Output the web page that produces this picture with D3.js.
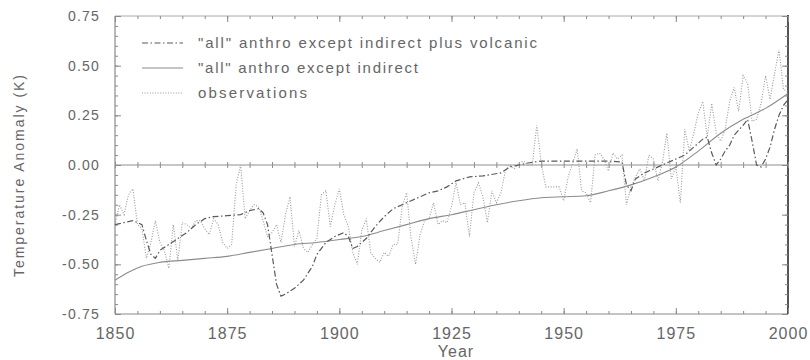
<!DOCTYPE html>
<html>
<head>
<meta charset="utf-8">
<script src="https://cdn.jsdelivr.net/npm/d3@7"></script>
<style>
  html, body { margin: 0; padding: 0; background: #fff; }
  svg { display: block; font-family: "Liberation Sans", Arial, Helvetica, sans-serif; }
</style>
</head>
<body>
<svg id="chart" width="810" height="360"></svg>
<script>
// Observed global-mean annual temperature anomaly (K), one value per year from 1850
const obsStartYear = 1850;
const obsValues = [
  -0.30, -0.20, -0.25, -0.15, -0.12, -0.30, -0.32, -0.47, -0.39, -0.28,
  -0.39, -0.43, -0.52, -0.30, -0.48, -0.29, -0.30, -0.32, -0.28, -0.28,
  -0.32, -0.35, -0.27, -0.30, -0.39, -0.42, -0.40, -0.10,  0.00, -0.27,
  -0.23, -0.20, -0.21, -0.28, -0.36, -0.34, -0.30, -0.39, -0.25, -0.16,
  -0.41, -0.33, -0.42, -0.44, -0.40, -0.37, -0.15, -0.13, -0.31, -0.20,
  -0.12, -0.25, -0.31, -0.44, -0.50, -0.33, -0.27, -0.44, -0.47, -0.49,
  -0.44, -0.46, -0.40, -0.40, -0.21, -0.14, -0.37, -0.50, -0.35, -0.28,
  -0.27, -0.19, -0.30, -0.28, -0.29, -0.21, -0.09, -0.20, -0.19, -0.36,
  -0.14, -0.09, -0.16, -0.29, -0.13, -0.19, -0.14, -0.03,  0.00, -0.02,
   0.01,  0.02,  0.00,  0.00,  0.20,  0.01, -0.11, -0.11, -0.11, -0.11,
  -0.18, -0.06,  0.01,  0.08, -0.13, -0.14, -0.19,  0.05,  0.06,  0.03,
  -0.03,  0.06,  0.03,  0.05, -0.20, -0.11, -0.06, -0.02, -0.08,  0.05,
   0.03, -0.08,  0.01,  0.16, -0.07, -0.01, -0.19,  0.18,  0.07,  0.16,
   0.26,  0.32,  0.14,  0.31,  0.16,  0.12,  0.18,  0.32,  0.39,  0.27,
   0.45,  0.41,  0.22,  0.23,  0.31,  0.45,  0.33,  0.46,  0.58,  0.38,
   0.37
];

// Model: "all" anthropogenic forcing except indirect aerosol effect
const anthroYears = [1850, 1853, 1856, 1860, 1865, 1870, 1875, 1880, 1885, 1890,
  1895, 1900, 1905, 1910, 1915, 1920, 1925, 1930, 1935, 1940,
  1945, 1950, 1955, 1960, 1965, 1970, 1975, 1980, 1985, 1990, 1995, 2000];
const anthroValues = [-0.58, -0.54, -0.51, -0.49, -0.48, -0.47, -0.46, -0.44, -0.42, -0.40,
  -0.39, -0.375, -0.36, -0.33, -0.30, -0.27, -0.25, -0.225, -0.20, -0.18,
  -0.165, -0.16, -0.155, -0.13, -0.10, -0.06, -0.01, 0.07, 0.16, 0.23, 0.285, 0.36];

// Model: same forcing plus volcanic aerosol
const volcYears = [1850, 1852, 1854, 1856, 1857, 1858, 1859, 1860, 1862, 1864,
  1866, 1868, 1870, 1872, 1875, 1878, 1880, 1882, 1883, 1884,
  1885, 1886, 1887, 1888, 1890, 1892, 1894, 1895, 1897, 1899,
  1901, 1902, 1903, 1904, 1906, 1908, 1910, 1912, 1914, 1916,
  1918, 1920, 1922, 1924, 1926, 1929, 1932, 1936, 1938, 1940,
  1942, 1945, 1950, 1955, 1960, 1963, 1964, 1965, 1966, 1968,
  1970, 1972, 1975, 1977, 1979, 1981, 1982, 1983, 1984, 1985,
  1986, 1987, 1988, 1990, 1991, 1992, 1993, 1994, 1995, 1996,
  1997, 1998, 1999, 2000];
const volcValues = [-0.30, -0.29, -0.28, -0.30, -0.38, -0.45, -0.47, -0.43, -0.40, -0.37,
  -0.34, -0.30, -0.27, -0.26, -0.255, -0.25, -0.23, -0.22, -0.24, -0.30,
  -0.45, -0.60, -0.66, -0.65, -0.62, -0.58, -0.51, -0.45, -0.39, -0.36,
  -0.34, -0.36, -0.42, -0.41, -0.37, -0.31, -0.26, -0.22, -0.20, -0.18,
  -0.16, -0.14, -0.13, -0.11, -0.08, -0.06, -0.055, -0.04, -0.01, 0.00,
  0.01, 0.02, 0.02, 0.02, 0.02, 0.015, -0.10, -0.13, -0.07, -0.04,
  -0.02, 0.00, 0.03, 0.05, 0.09, 0.13, 0.14, 0.06, 0.00, 0.03,
  0.07, 0.10, 0.15, 0.20, 0.23, 0.12, 0.00, -0.01, 0.03, 0.09,
  0.18, 0.25, 0.30, 0.33];

// Axis ticks and text
const xMajorTicks = [1850, 1875, 1900, 1925, 1950, 1975, 2000];
const yMajorTicks = [-0.75, -0.50, -0.25, 0.00, 0.25, 0.50, 0.75];
const legendLabels = [
  "\"all\" anthro except indirect plus volcanic",
  "\"all\" anthro except indirect",
  "observations"
];
const xTitle = "Year";
const yTitle = "Temperature Anomaly (K)";

// ---------- layout ----------
const plot = { left: 115, right: 788, top: 16, bottom: 314 };
const svg = d3.select("#chart");

const x = d3.scaleLinear().domain([1850, 2000]).range([plot.left, plot.right]);
const y = d3.scaleLinear().domain([-0.75, 0.75]).range([plot.bottom, plot.top]);

const xMinor = d3.range(1850, 2001, 5);
const yMinor = d3.range(-0.75, 0.7501, 0.05).map(v => +v.toFixed(2));

const axisColor = "#8a8a8a";
const textColor = "#666";

// frame
const frame = svg.append("g");
frame.append("line").attr("x1", plot.left).attr("x2", plot.right)
  .attr("y1", plot.top).attr("y2", plot.top)
  .attr("stroke", "#a8a8a8").attr("stroke-width", 1);
frame.append("line").attr("x1", plot.left).attr("x2", plot.right)
  .attr("y1", plot.bottom).attr("y2", plot.bottom)
  .attr("stroke", axisColor).attr("stroke-width", 1.2);
frame.append("line").attr("x1", plot.left).attr("x2", plot.left)
  .attr("y1", plot.top).attr("y2", plot.bottom)
  .attr("stroke", axisColor).attr("stroke-width", 1.2);
frame.append("line").attr("x1", plot.right).attr("x2", plot.right)
  .attr("y1", plot.top - 1).attr("y2", plot.bottom)
  .attr("stroke", "#555").attr("stroke-width", 2);

// inward ticks on all four sides
function tickGroup(axis, tx, ty) {
  const g = svg.append("g").attr("transform", `translate(${tx},${ty})`).call(axis);
  g.select(".domain").remove();
  g.selectAll(".tick line").attr("stroke", axisColor);
  return g;
}
tickGroup(d3.axisBottom(x).tickValues(xMinor).tickSize(-3).tickFormat(""), 0, plot.bottom);
tickGroup(d3.axisTop(x).tickValues(xMinor).tickSize(-3).tickFormat(""), 0, plot.top);
tickGroup(d3.axisLeft(y).tickValues(yMinor).tickSize(-3).tickFormat(""), plot.left, 0);
tickGroup(d3.axisRight(y).tickValues(yMinor).tickSize(-3).tickFormat(""), plot.right, 0);
tickGroup(d3.axisTop(x).tickValues(xMajorTicks).tickSize(-6).tickFormat(""), 0, plot.top);
tickGroup(d3.axisRight(y).tickValues(yMajorTicks).tickSize(-6).tickFormat(""), plot.right, 0);

// labelled axes
const xAxisG = tickGroup(
  d3.axisBottom(x).tickValues(xMajorTicks).tickSize(-6).tickPadding(14).tickFormat(d3.format("d")),
  0, plot.bottom);
xAxisG.selectAll(".tick text")
  .attr("fill", textColor).attr("font-size", 16).attr("letter-spacing", 1)
  .attr("font-family", "'Liberation Sans', Arial, sans-serif");

const yAxisG = tickGroup(
  d3.axisLeft(y).tickValues(yMajorTicks).tickSize(-6).tickPadding(15).tickFormat(d => d.toFixed(2)),
  plot.left, 0);
yAxisG.selectAll(".tick text")
  .attr("fill", textColor).attr("font-size", 14).attr("letter-spacing", 1.2)
  .attr("font-family", "'Liberation Sans', Arial, sans-serif");

// zero reference line with small crossing ticks
svg.append("line").attr("x1", plot.left).attr("x2", plot.right)
  .attr("y1", y(0)).attr("y2", y(0))
  .attr("stroke", "#8e8e8e").attr("stroke-width", 1);
const zeroTicks = svg.append("g").attr("transform", `translate(0,${y(0)})`)
  .call(d3.axisBottom(x).tickValues(xMinor).tickSize(3).tickFormat(""));
zeroTicks.select(".domain").remove();
zeroTicks.selectAll(".tick line").attr("y1", -3).attr("stroke", "#8e8e8e");

// axis titles
svg.append("text")
  .attr("x", x(1926)).attr("y", 357)
  .attr("text-anchor", "middle")
  .attr("font-size", 16).attr("letter-spacing", 1)
  .attr("fill", textColor)
  .text(xTitle);
svg.append("text")
  .attr("transform", `translate(24,${(plot.top + plot.bottom) / 2 + 11}) rotate(-90)`)
  .attr("text-anchor", "middle")
  .attr("font-size", 14)
  .attr("textLength", 202).attr("lengthAdjust", "spacing")
  .attr("fill", textColor)
  .text(yTitle);

// ---------- data lines ----------
const line = d3.line().x(d => x(d[0])).y(d => y(d[1]));
const obsPoints = obsValues.map((v, i) => [obsStartYear + i, v]);
const anthroPoints = anthroYears.map((yr, i) => [yr, anthroValues[i]]);
const volcPoints = volcYears.map((yr, i) => [yr, volcValues[i]]);

const styles = [
  { stroke: "#5a5a5a", width: 1.2, dash: "6,2.5,1.5,2.5" },
  { stroke: "#8c8c8c", width: 1.1, dash: null },
  { stroke: "#9a9a9a", width: 1.1, dash: "1,1.6" }
];

const lines = svg.append("g").attr("fill", "none");
lines.append("path").datum(obsPoints)
  .attr("d", line)
  .attr("stroke", styles[2].stroke).attr("stroke-width", styles[2].width)
  .attr("stroke-dasharray", styles[2].dash);
lines.append("path").datum(anthroPoints)
  .attr("d", line.curve(d3.curveMonotoneX))
  .attr("stroke", styles[1].stroke).attr("stroke-width", styles[1].width);
lines.append("path").datum(volcPoints)
  .attr("d", line.curve(d3.curveLinear))
  .attr("stroke", styles[0].stroke).attr("stroke-width", styles[0].width)
  .attr("stroke-dasharray", styles[0].dash);

// ---------- legend ----------
const legendRows = [43, 68, 93];
const legendWidths = [339, 220, 109];
const legend = svg.append("g");
legendLabels.forEach((label, i) => {
  legend.append("line")
    .attr("x1", 142).attr("x2", 183)
    .attr("y1", legendRows[i]).attr("y2", legendRows[i])
    .attr("stroke", styles[i].stroke).attr("stroke-width", styles[i].width)
    .attr("stroke-dasharray", styles[i].dash);
  legend.append("text")
    .attr("x", 198).attr("y", legendRows[i] + 5)
    .attr("font-size", 15)
    .attr("textLength", legendWidths[i]).attr("lengthAdjust", "spacing")
    .attr("fill", textColor)
    .text(label);
});
</script>
</body>
</html>
